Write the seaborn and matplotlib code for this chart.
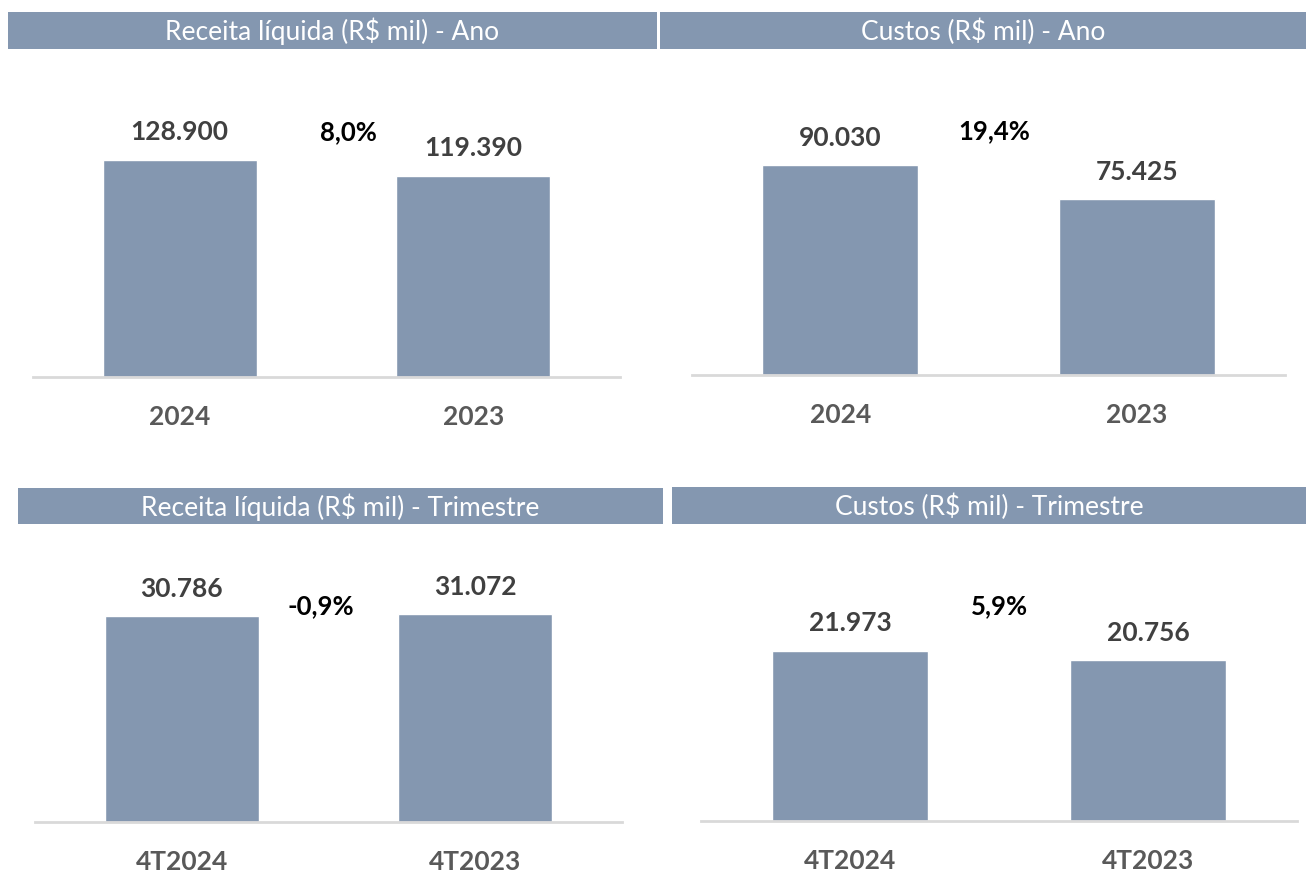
import matplotlib
matplotlib.use("Agg")
import matplotlib.pyplot as plt
import seaborn as sns
import pandas as pd

sns.set_theme(style="white")
plt.rcParams['font.family'] = ['Lato', 'DejaVu Sans']

# ---- data ----
titles = ["Receita líquida (R$ mil) - Ano", "Custos (R$ mil) - Ano",
          "Receita líquida (R$ mil) - Trimestre", "Custos (R$ mil) - Trimestre"]
cats_ano = ["2024", "2023"]
cats_tri = ["4T2024", "4T2023"]
receita_ano = [128900, 119390]
custos_ano = [90030, 75425]
receita_tri = [30786, 31072]
custos_tri = [21973, 20756]
variacoes = ["8,0%", "19,4%", "-0,9%", "5,9%"]

W, H = 1306, 872
fig = plt.figure(figsize=(W / 100, H / 100), dpi=100)
BAR = "#8497B0"

def px_rect(x0, y0, x1, y1):
    return [x0 / W, 1 - y1 / H, (x1 - x0) / W, (y1 - y0) / H]

panels = [
    dict(cats=cats_ano, vals=receita_ano, title=titles[0], var=variacoes[0],
         tb=(8, 12, 657, 49), ax=(33, 60, 620, 377), ymax=188000, vx=0.575, vy=0.773),
    dict(cats=cats_ano, vals=custos_ano, title=titles[1], var=variacoes[1],
         tb=(660, 12, 1306, 49), ax=(692, 60, 1285, 375), ymax=135000, vx=0.52, vy=0.775),
    dict(cats=cats_tri, vals=receita_tri, title=titles[2], var=variacoes[2],
         tb=(18, 488, 663, 524), ax=(35, 530, 622, 822), ymax=43700, vx=0.475, vy=0.74),
    dict(cats=cats_tri, vals=custos_tri, title=titles[3], var=variacoes[3],
         tb=(672, 487, 1306, 524), ax=(701, 530, 1297, 821), ymax=37550, vx=0.50, vy=0.739),
]

for p in panels:
    # title bar
    tax = fig.add_axes(px_rect(*p["tb"]))
    tax.set_facecolor(BAR)
    for s in tax.spines.values():
        s.set_visible(False)
    tax.set_xticks([]); tax.set_yticks([])
    tax.text(0.5, 0.47, p["title"], ha="center", va="center", color="white",
             fontsize=19, transform=tax.transAxes)

    ax = fig.add_axes(px_rect(*p["ax"]))
    df = pd.DataFrame({"cat": p["cats"], "val": p["vals"]})
    sns.barplot(data=df, x="cat", y="val", color=BAR, saturation=1, width=0.525, ax=ax)
    ax.set_xlim(-0.5, 1.5)
    ax.set_ylim(0, p["ymax"])
    ax.set_xlabel(""); ax.set_ylabel("")
    ax.set_yticks([])
    for s in ["top", "left", "right"]:
        ax.spines[s].set_visible(False)
    ax.spines["bottom"].set_color("#D9D9D9")
    ax.spines["bottom"].set_linewidth(2)
    ax.tick_params(axis="x", length=0, pad=20, labelsize=19, labelcolor="#595959")
    for lab in ax.get_xticklabels():
        lab.set_fontweight("bold")
    labels = [f"{v:,.0f}".replace(",", ".") for v in p["vals"]]
    ax.bar_label(ax.containers[0], labels=labels, padding=11, fontsize=19,
                 fontweight="bold", color="#404040")
    ax.text(p["vx"], p["vy"], p["var"], transform=ax.get_xaxis_transform(),
            ha="center", va="center", fontsize=18.5, fontweight="bold", color="black")

fig.savefig("out.png", dpi=100)
